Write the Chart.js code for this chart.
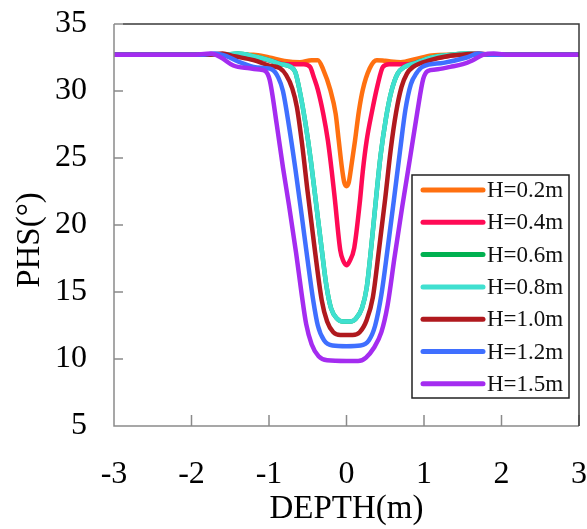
<!DOCTYPE html>
<html>
<head>
<meta charset="utf-8">
<script src="https://cdn.jsdelivr.net/npm/chart.js@4.4.1/dist/chart.umd.min.js"></script>
<style>
  html, body { margin: 0; padding: 0; background: #fff; }
  #wrap { width: 587px; height: 529px; }
</style>
</head>
<body>
<div id="wrap"><canvas id="chart"></canvas></div>
<script>
const X_TICKS = [-3, -2, -1, 0, 1, 2, 3];
const Y_TICKS = [5, 10, 15, 20, 25, 30, 35];
const X_TITLE = 'DEPTH(m)';
const Y_TITLE = 'PHS(°)';

// H = 0.2 m
const depth02 = [-3, -1.5, -1.2, -1.0, -0.8, -0.6, -0.45, -0.37, -0.3, -0.21, -0.14, -0.1, -0.06, -0.03, 0,
  0.03, 0.06, 0.11, 0.16, 0.21, 0.3, 0.39, 0.5, 0.7, 0.9, 1.1, 1.3, 3];
const phs02 = [32.7, 32.7, 32.7, 32.5, 32.25, 32.15, 32.3, 32.3, 31.6, 30.1, 28.3, 26.3, 24.3, 23.2, 22.9,
  23.2, 24.3, 26.3, 28.5, 30.1, 31.7, 32.3, 32.25, 32.15, 32.4, 32.65, 32.7, 32.7];

// H = 0.4 m
const depth04 = [-3, -1.6, -1.3, -1.0, -0.8, -0.55, -0.47, -0.42, -0.37, -0.3, -0.24, -0.19, -0.15, -0.08, -0.04, 0,
  0.04, 0.1, 0.17, 0.21, 0.26, 0.33, 0.4, 0.47, 0.55, 0.8, 1.0, 1.3, 1.5, 3];
const phs04 = [32.7, 32.7, 32.6, 32.3, 32.0, 32.0, 31.8, 31.0, 30.1, 28.3, 26.3, 24.0, 21.9, 18.1, 17.3, 17.0,
  17.3, 18.3, 21.6, 24.0, 26.3, 28.5, 30.4, 31.8, 32.0, 32.0, 32.3, 32.6, 32.7, 32.7];

// H = 0.6 m (hidden under H = 0.8 m in the figure)
const depth06 = [-3, -1.6, -1.4, -1.2, -1.0, -0.85, -0.72, -0.66, -0.6, -0.53, -0.46, -0.39, -0.32, -0.26, -0.2, -0.12, -0.05, 0,
  0.05, 0.12, 0.2, 0.26, 0.32, 0.38, 0.44, 0.51, 0.58, 0.66, 0.75, 0.9, 1.1, 1.35, 1.55, 1.8, 3];
const phs06 = [32.7, 32.7, 32.8, 32.6, 32.3, 32.0, 31.8, 31.4, 29.9, 27.6, 24.8, 21.5, 18.2, 15.5, 13.8, 13.0, 12.8, 12.8,
  12.8, 13.0, 13.8, 15.3, 18.4, 21.9, 25.2, 28.0, 30.0, 31.3, 31.8, 32.1, 32.5, 32.7, 32.8, 32.7, 32.7];

// H = 0.8 m
const depth08 = [-3, -1.6, -1.4, -1.2, -1.0, -0.85, -0.72, -0.66, -0.6, -0.53, -0.46, -0.39, -0.32, -0.26, -0.2, -0.12, -0.05, 0,
  0.05, 0.12, 0.2, 0.26, 0.32, 0.38, 0.44, 0.51, 0.58, 0.66, 0.75, 0.9, 1.1, 1.35, 1.55, 1.8, 3];
const phs08 = [32.7, 32.7, 32.8, 32.6, 32.3, 32.0, 31.8, 31.4, 29.9, 27.6, 24.8, 21.5, 18.2, 15.5, 13.8, 13.0, 12.8, 12.8,
  12.8, 13.0, 13.8, 15.3, 18.4, 21.9, 25.2, 28.0, 30.0, 31.3, 31.8, 32.1, 32.5, 32.7, 32.8, 32.7, 32.7];

// H = 1.0 m
const depth10 = [-3, -1.8, -1.6, -1.45, -1.2, -1.0, -0.86, -0.78, -0.7, -0.64, -0.57, -0.5, -0.41, -0.32, -0.25, -0.17, -0.08, 0,
  0.08, 0.17, 0.26, 0.34, 0.42, 0.5, 0.57, 0.64, 0.71, 0.78, 0.86, 1.08, 1.3, 1.46, 1.7, 1.9, 3];
const phs10 = [32.7, 32.7, 32.8, 32.6, 32.3, 31.9, 31.7, 31.2, 30.2, 28.8, 25.9, 22.4, 18.2, 14.4, 12.8, 12.0, 11.8, 11.8,
  11.8, 12.0, 12.9, 14.6, 18.2, 22.0, 25.6, 28.4, 30.3, 31.3, 31.8, 32.3, 32.6, 32.7, 32.8, 32.7, 32.7];

// H = 1.2 m
const depth12 = [-3, -1.85, -1.7, -1.55, -1.4, -1.2, -1.05, -0.96, -0.88, -0.82, -0.74, -0.66, -0.58, -0.5, -0.43, -0.37, -0.29, -0.18, 0,
  0.18, 0.29, 0.37, 0.45, 0.53, 0.61, 0.69, 0.76, 0.83, 0.9, 0.98, 1.25, 1.55, 1.7, 1.85, 3];
const phs12 = [32.7, 32.7, 32.8, 32.6, 32.2, 31.8, 31.7, 31.6, 31.0, 30.0, 27.3, 24.2, 20.8, 17.3, 14.4, 12.5, 11.4, 11.0, 10.95,
  11.0, 11.4, 12.5, 14.8, 18.2, 21.8, 25.5, 28.6, 30.5, 31.3, 31.8, 32.1, 32.5, 32.8, 32.7, 32.7];

// H = 1.5 m
const depth15 = [-3, -2.0, -1.75, -1.62, -1.46, -1.25, -1.12, -1.05, -0.99, -0.9, -0.82, -0.74, -0.65, -0.58, -0.52, -0.45, -0.36, -0.25, 0,
  0.15, 0.25, 0.35, 0.45, 0.53, 0.62, 0.72, 0.82, 0.91, 0.99, 1.05, 1.15, 1.34, 1.5, 1.63, 1.76, 1.9, 2.1, 3];
const phs15 = [32.7, 32.7, 32.8, 32.5, 31.9, 31.7, 31.6, 31.5, 30.8, 27.5, 24.3, 21.4, 17.9, 14.9, 12.6, 11.1, 10.2, 9.9, 9.85,
  9.85, 10.1, 10.8, 12.0, 14.0, 17.6, 21.4, 25.0, 28.3, 30.9, 31.5, 31.6, 31.8, 32.0, 32.3, 32.7, 32.8, 32.7, 32.7];

const SERIES = [
  { label: 'H=0.2m', color: '#ff7010', depth: depth02, phs: phs02 },
  { label: 'H=0.4m', color: '#ff0a55', depth: depth04, phs: phs04 },
  { label: 'H=0.6m', color: '#00b050', depth: depth06, phs: phs06 },
  { label: 'H=0.8m', color: '#40e0d0', depth: depth08, phs: phs08 },
  { label: 'H=1.0m', color: '#b0191e', depth: depth10, phs: phs10 },
  { label: 'H=1.2m', color: '#3f6fff', depth: depth12, phs: phs12 },
  { label: 'H=1.5m', color: '#a42cf0', depth: depth15, phs: phs15 },
];

const SERIF = '"Liberation Serif", "Times New Roman", serif';

function toPoints(xs, ys) {
  return xs.map((x, i) => ({ x, y: ys[i] }));
}

// frame with inward tick marks, drawn on top of the curves
const framePlugin = {
  id: 'frame',
  afterDatasetsDraw(chart) {
    const { ctx, chartArea: a, scales } = chart;
    ctx.save();
    ctx.lineWidth = 1.5;
    ctx.strokeStyle = '#8a8a8a';
    ctx.beginPath();
    ctx.moveTo(a.left, a.top);
    ctx.lineTo(a.left, a.bottom);
    ctx.lineTo(a.right, a.bottom);
    Y_TICKS.forEach((v) => {
      const py = scales.y.getPixelForValue(v);
      ctx.moveTo(a.left, py);
      ctx.lineTo(a.left + 9, py);
    });
    X_TICKS.forEach((v) => {
      const px = scales.x.getPixelForValue(v);
      ctx.moveTo(px, a.bottom);
      ctx.lineTo(px, a.bottom - 11);
    });
    ctx.stroke();
    ctx.strokeStyle = '#3a3a3a';
    ctx.beginPath();
    ctx.moveTo(a.left + 9, a.top);
    ctx.lineTo(a.right, a.top);
    ctx.lineTo(a.right, a.bottom);
    ctx.stroke();
    ctx.restore();
  },
};

// y title sits a little below the plot's middle in the original
const yTitlePlugin = {
  id: 'yTitle',
  afterDraw(chart) {
    const { ctx } = chart;
    ctx.save();
    ctx.translate(30, 240);
    ctx.rotate(-Math.PI / 2);
    ctx.font = '33px ' + SERIF;
    ctx.fillStyle = '#000';
    ctx.textAlign = 'center';
    ctx.textBaseline = 'middle';
    ctx.fillText(Y_TITLE, 0, 0);
    ctx.restore();
  },
};

// boxed legend inside the plot area
const legendPlugin = {
  id: 'boxLegend',
  afterDraw(chart) {
    const { ctx } = chart;
    const box = { left: 412, top: 175, width: 157, height: 223 };
    ctx.save();
    ctx.fillStyle = '#fff';
    ctx.fillRect(box.left, box.top, box.width, box.height);
    ctx.lineWidth = 1.5;
    ctx.strokeStyle = '#222';
    ctx.strokeRect(box.left, box.top, box.width, box.height);
    ctx.font = '23px ' + SERIF;
    ctx.textBaseline = 'middle';
    ctx.fillStyle = '#111';
    chart.data.datasets.forEach((ds, i) => {
      const y = box.top + 15 + i * 32.3;
      ctx.strokeStyle = ds.borderColor;
      ctx.lineWidth = 5;
      ctx.lineCap = 'round';
      ctx.beginPath();
      ctx.moveTo(box.left + 11, y);
      ctx.lineTo(box.left + 71, y);
      ctx.stroke();
      ctx.fillText(ds.label, box.left + 75, y + 1);
    });
    ctx.restore();
  },
};

const datasets = SERIES.map((s, i) => ({
  label: s.label,
  data: toPoints(s.depth, s.phs),
  borderColor: s.color,
  backgroundColor: s.color,
  borderWidth: 4.5,
  borderCapStyle: 'round',
  borderJoinStyle: 'round',
  pointRadius: 0,
  cubicInterpolationMode: 'monotone',
  fill: false,
  order: SERIES.length - i,
}));

new Chart(document.getElementById('chart'), {
  type: 'line',
  data: { datasets },
  options: {
    responsive: true,
    maintainAspectRatio: false,
    animation: false,
    layout: { padding: { top: 24, right: 8, left: 0, bottom: 0 } },
    plugins: { legend: { display: false }, tooltip: { enabled: false } },
    scales: {
      x: {
        type: 'linear',
        min: -3,
        max: 3,
        afterBuildTicks: (scale) => { scale.ticks = X_TICKS.map((v) => ({ value: v })); },
        afterFit: (scale) => {
          scale.height = 103;
          scale.paddingLeft = 0;
          scale.paddingRight = 0;
        },
        ticks: { padding: 29, color: '#000', font: { family: SERIF, size: 32 } },
        grid: { display: false, drawTicks: false },
        border: { display: false },
        title: {
          display: true,
          text: X_TITLE,
          color: '#000',
          font: { family: SERIF, size: 33 },
          padding: { top: 0, bottom: 0 },
        },
      },
      y: {
        min: 5,
        max: 35,
        afterBuildTicks: (scale) => { scale.ticks = Y_TICKS.map((v) => ({ value: v })); },
        afterFit: (scale) => {
          scale.width = 114;
          scale.paddingTop = 0;
          scale.paddingBottom = 0;
        },
        ticks: { padding: 27, color: '#000', font: { family: SERIF, size: 32 } },
        grid: { display: false, drawTicks: false },
        border: { display: false },
        title: { display: false },
      },
    },
  },
  plugins: [framePlugin, yTitlePlugin, legendPlugin],
});
</script>
</body>
</html>
